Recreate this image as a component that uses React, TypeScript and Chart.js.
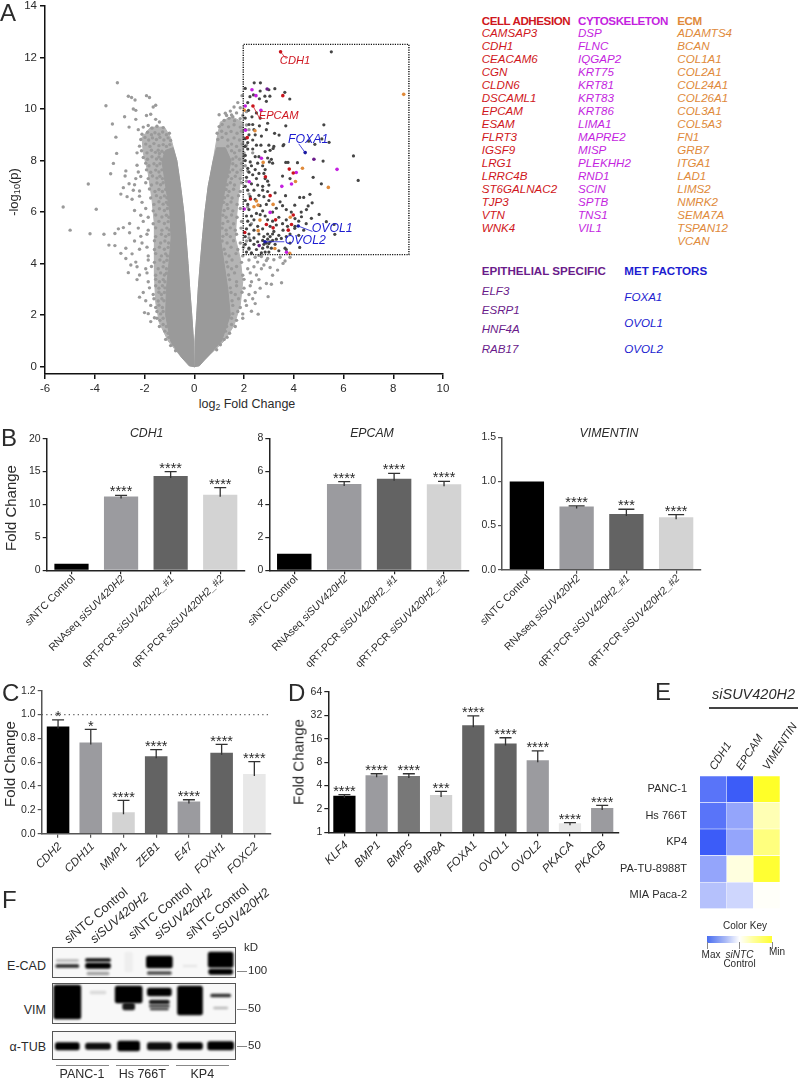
import React, { useEffect, useRef } from "react";
import { Chart, registerables } from "chart.js";
Chart.register(...registerables);

const FONT = "'Liberation Sans', Arial, sans-serif";
const INK = "#2b2b2b";

// ---------- Panel A data ----------
const volcanoXTicks = [-6, -4, -2, 0, 2, 4, 6, 8, 10];
const volcanoYTicks = [0, 2, 4, 6, 8, 10, 12, 14];
const denseLeftArm = [[0, 0], [-0.03, 1], [-0.1, 2], [-0.18, 3], [-0.25, 4], [-0.33, 5], [-0.42, 6], [-0.55, 7], [-0.7, 8], [-0.85, 8.5], [-1.15, 8.4], [-1.3, 8], [-1.15, 7], [-0.98, 6], [-0.93, 5], [-1.02, 4], [-1.12, 3], [-1.15, 2], [-0.95, 1], [-0.5, 0.35], [-0.2, 0.03], [0, 0]];
const denseRightArm = [[0, 0], [0.03, 1], [0.1, 2], [0.16, 3], [0.24, 4], [0.33, 5], [0.43, 6], [0.56, 7], [0.76, 8], [0.9, 8.5], [1.25, 8.5], [1.48, 8], [1.25, 7], [1.08, 6], [1.05, 5], [1.2, 4], [1.35, 3], [1.45, 2], [1.1, 1], [0.5, 0.35], [0.2, 0.03], [0, 0]];
const midLeftArm = [[0, 0], [-0.03, 1], [-0.1, 2], [-0.18, 3], [-0.25, 4], [-0.33, 5], [-0.42, 6], [-0.55, 7], [-0.7, 8], [-0.95, 8.9], [-1.2, 9.3], [-1.75, 9.3], [-2.1, 8.9], [-2.05, 8.3], [-1.85, 7.5], [-1.7, 6.5], [-1.6, 5.5], [-1.6, 4.5], [-1.6, 3.5], [-1.55, 2.5], [-1.4, 1.7], [-1.05, 1], [-0.5, 0.35], [0, 0]];
const midRightArm = [[0, 0], [0.03, 1], [0.1, 2], [0.16, 3], [0.24, 4], [0.33, 5], [0.43, 6], [0.56, 7], [0.76, 8], [0.92, 8.9], [1.05, 9.5], [1.5, 9.7], [1.95, 9.5], [2.0, 8.6], [1.95, 7.8], [1.8, 6.8], [1.7, 5.8], [1.65, 5], [1.85, 4.2], [1.95, 3.3], [1.85, 2.4], [1.6, 1.6], [1.2, 1], [0.5, 0.35], [0, 0]];
const grayLeft = [[-3.09, 11.02], [-3.55, 10.13], [-3.29, 9.42], [-3.15, 8.91], [-3.12, 8.28], [-3.25, 7.89], [-3.36, 7.49], [-4.26, 7.09], [-5.27, 6.2], [-3.94, 6.11], [-4.99, 5.3], [-4.19, 5.16], [-3.63, 5.14], [-3.19, 5.17], [-3.43, 4.72], [-3.19, 4.7],
[-2.65, 10.5], [-2.52, 10.45], [-2.38, 10.35], [-2.45, 10.0], [-2.35, 9.95], [-2.8, 9.7], [-2.35, 9.6], [-2.62, 9.3], [-2.25, 9.2], [-1.92, 10.52], [-1.8, 10.45], [-1.55, 10.15], [-1.65, 10.08], [-1.75, 9.8], [-1.92, 9.75], [-1.55, 9.6], [-1.4, 9.5],
[-2.3, 8.3], [-2.75, 7.6], [-2.78, 7.4], [-2.62, 7.1], [-2.35, 7.3], [-2.85, 6.95], [-2.95, 6.7], [-2.7, 6.6], [-2.5, 6.5], [-2.45, 6.85], [-2.85, 5.4], [-3.05, 5.35], [-2.6, 5.2], [-2.75, 4.6], [-2.95, 4.4], [-2.75, 4.2], [-2.55, 3.95], [-2.65, 3.65], [-2.2, 2.7], [-1.6, 1.9], [-2.0, 2.1], [-1.75, 1.75]];
const grayLeftRim = [[-2.05, 9.3], [-1.85, 9.36], [-1.7, 9.26], [-1.5, 9.33], [-1.25, 9.28], [-2.1, 9.02], [-1.88, 9.1], [-1.72, 9.0], [-1.58, 9.08], [-1.42, 9.02], [-1.27, 9.11], [-1.12, 9.0], [-1.0, 9.06], [-2.15, 8.82], [-1.98, 8.9], [-1.83, 8.8], [-1.68, 8.88], [-1.52, 8.82], [-1.38, 8.9], [-1.22, 8.8], [-1.05, 8.88], [-0.95, 8.78], [-2.2, 8.56], [-1.95, 8.64], [-1.78, 8.55], [-1.62, 8.66], [-1.42, 8.58], [-1.25, 8.62], [-1.12, 8.55], [-0.98, 8.62], [-2.12, 8.38], [-1.9, 8.3], [-1.72, 8.4], [-1.56, 8.32], [-1.45, 8.4], [-1.4, 8.28], [-1.3, 8.36], [-1.2, 8.3], [-2.05, 8.12], [-1.88, 8.05], [-1.7, 8.15], [-1.52, 8.06], [-1.42, 8.14], [-1.33, 8.05], [-2.3, 7.82], [-1.95, 7.9], [-1.82, 7.8], [-1.62, 7.88], [-1.5, 7.8], [-1.38, 7.88], [-2.25, 7.56], [-1.92, 7.64], [-1.75, 7.55], [-1.55, 7.63], [-1.42, 7.56], [-1.3, 7.64], [-2.15, 7.38], [-1.85, 7.3], [-1.68, 7.4], [-1.5, 7.32], [-1.38, 7.39], [-1.28, 7.3], [-2.4, 7.06], [-1.95, 7.14], [-1.72, 7.05], [-1.5, 7.13], [-1.35, 7.06], [-1.25, 7.14], [-2.2, 6.82], [-1.8, 6.9], [-1.58, 6.8], [-1.42, 6.88], [-1.28, 6.8], [-1.15, 6.88], [-2.2, 6.62], [-1.75, 6.55], [-1.52, 6.64], [-1.35, 6.56], [-1.2, 6.63], [-1.1, 6.56], [-2.1, 6.38], [-1.62, 6.3], [-1.42, 6.4], [-1.25, 6.31], [-1.12, 6.38], [-1.05, 6.3], [-2.4, 6.06], [-1.95, 6.14], [-1.65, 6.05], [-1.4, 6.13], [-1.2, 6.06], [-1.08, 6.14], [-2.15, 5.88], [-1.85, 5.8], [-1.55, 5.89], [-1.3, 5.81], [-1.12, 5.88], [-1.02, 5.8], [-2.6, 5.56], [-2.05, 5.64], [-1.65, 5.55], [-1.42, 5.64], [-1.2, 5.56], [-1.05, 5.63], [-2.25, 5.38], [-1.85, 5.3], [-1.55, 5.39], [-1.3, 5.3], [-1.1, 5.38], [-1.0, 5.31], [-2.15, 5.06], [-1.9, 5.14], [-1.55, 5.05], [-1.32, 5.14], [-1.15, 5.06], [-1.02, 5.13], [-2.4, 4.88], [-2.1, 4.8], [-1.6, 4.89], [-1.35, 4.8], [-1.18, 4.88], [-1.03, 4.8], [-2.2, 4.56], [-1.9, 4.64], [-1.6, 4.55], [-1.4, 4.64], [-1.2, 4.56], [-1.05, 4.63], [-2.5, 4.38], [-1.85, 4.3], [-1.55, 4.39], [-1.32, 4.3], [-1.15, 4.38], [-1.08, 4.3], [-2.35, 4.06], [-1.85, 4.14], [-1.6, 4.05], [-1.38, 4.14], [-1.22, 4.06], [-1.1, 4.13], [-2.3, 3.88], [-1.95, 3.8], [-1.72, 3.89], [-1.45, 3.8], [-1.25, 3.88], [-1.12, 3.8], [-2.2, 3.56], [-1.9, 3.64], [-1.55, 3.55], [-1.35, 3.64], [-1.2, 3.56], [-1.12, 3.63], [-2.3, 3.38], [-1.85, 3.3], [-1.55, 3.39], [-1.4, 3.3], [-1.25, 3.38], [-1.18, 3.3], [-1.8, 3.06], [-1.55, 3.14], [-1.42, 3.05], [-1.28, 3.14], [-1.18, 3.06], [-2.05, 2.88], [-1.65, 2.8], [-1.42, 2.89], [-1.32, 2.8], [-1.2, 2.88], [-1.95, 2.56], [-1.62, 2.64], [-1.45, 2.55], [-1.3, 2.64], [-1.22, 2.56], [-1.75, 2.38], [-1.55, 2.3], [-1.42, 2.39], [-1.28, 2.3], [-1.85, 2.06], [-1.5, 2.14], [-1.35, 2.05], [-1.25, 2.14], [-1.5, 1.88], [-1.38, 1.8], [-1.25, 1.88], [-1.4, 1.56], [-1.25, 1.64], [-1.12, 1.56], [-1.18, 1.38], [-1.05, 1.3], [-1.15, 1.06], [-1.02, 1.14], [-0.95, 0.82], [-0.85, 0.88], [-0.75, 0.62]];
const grayRight = [[1.92, 10.52], [1.75, 10.25], [1.6, 10.08], [1.85, 10.05], [1.45, 9.92], [1.3, 9.75], [1.7, 9.85], [1.95, 9.75], [1.55, 9.7], [2.1, 9.9], [3.57, 4.01], [3.35, 3.75], [3.15, 3.55], [3.51, 3.26], [2.9, 3.23], [3.1, 3.2], [2.97, 2.72], [2.57, 2.04], [2.65, 3.05], [2.45, 2.45], [3.65, 4.1], [3.85, 4.25], [3.45, 4.25], [3.2, 4.15], [2.95, 4.2], [2.7, 4.28], [2.45, 4.25], [3.05, 3.85], [2.8, 3.95], [2.2, 9.2], [2.15, 7.6], [2.1, 7.2], [2.2, 6.7], [2.15, 6.2], [2.3, 5.55], [2.2, 5.0], [2.35, 8.3], [2.1, 8.6]];
const grayRightRim = [[1.0, 9.78], [1.25, 9.84], [1.5, 9.77], [1.2, 9.56], [1.4, 9.64], [1.62, 9.55], [1.85, 9.63], [1.0, 9.32], [1.12, 9.4], [1.38, 9.31], [1.6, 9.39], [1.85, 9.3], [2.1, 9.38], [0.92, 9.06], [1.1, 9.14], [1.28, 9.05], [1.48, 9.13], [1.72, 9.06], [1.9, 9.14], [0.95, 8.82], [1.12, 8.9], [1.35, 8.8], [1.6, 8.88], [1.82, 8.8], [2.0, 8.88], [1.35, 8.56], [1.5, 8.64], [1.7, 8.55], [1.92, 8.64], [2.05, 8.56], [1.5, 8.38], [1.62, 8.3], [1.82, 8.39], [2.0, 8.3], [1.55, 8.06], [1.68, 8.14], [1.82, 8.05], [1.98, 8.14], [1.55, 7.88], [1.68, 7.8], [1.9, 7.89], [2.05, 7.8], [1.42, 7.56], [1.55, 7.64], [1.72, 7.55], [1.88, 7.64], [1.35, 7.38], [1.5, 7.3], [1.65, 7.39], [1.85, 7.3], [1.32, 7.06], [1.45, 7.14], [1.62, 7.05], [1.9, 7.14], [1.28, 6.88], [1.4, 6.8], [1.58, 6.89], [1.85, 6.8], [1.22, 6.56], [1.35, 6.64], [1.52, 6.55], [1.78, 6.64], [1.18, 6.38], [1.32, 6.3], [1.48, 6.39], [1.72, 6.3], [1.2, 6.06], [1.35, 6.14], [1.55, 6.05], [1.85, 6.14], [1.15, 5.88], [1.28, 5.8], [1.5, 5.89], [1.72, 5.8], [1.15, 5.56], [1.35, 5.64], [1.58, 5.55], [1.9, 5.64], [1.12, 5.38], [1.28, 5.3], [1.45, 5.39], [1.65, 5.3], [1.88, 5.38], [1.15, 5.06], [1.3, 5.14], [1.45, 5.05], [1.7, 5.14], [1.12, 4.88], [1.32, 4.8], [1.58, 4.89], [1.85, 4.8], [2.1, 4.88], [1.2, 4.56], [1.48, 4.64], [1.75, 4.55], [1.98, 4.64], [2.2, 4.56], [1.25, 4.38], [1.4, 4.3], [1.68, 4.39], [1.95, 4.3], [2.3, 4.4], [2.6, 4.32], [1.3, 4.06], [1.52, 4.14], [1.9, 4.05], [2.2, 4.14], [2.55, 4.06], [2.9, 4.12], [1.35, 3.88], [1.5, 3.8], [1.7, 3.89], [2.15, 3.8], [2.4, 3.88], [2.7, 3.8], [1.38, 3.56], [1.62, 3.64], [1.95, 3.55], [2.25, 3.64], [2.5, 3.56], [1.42, 3.38], [1.7, 3.3], [2.0, 3.39], [2.3, 3.3], [2.6, 3.38], [1.45, 3.06], [1.7, 3.14], [2.0, 3.05], [2.25, 3.14], [1.48, 2.88], [1.65, 2.8], [1.92, 2.89], [2.2, 2.8], [2.45, 2.88], [1.52, 2.56], [1.78, 2.64], [2.05, 2.56], [2.35, 2.64], [1.55, 2.38], [1.85, 2.3], [2.1, 2.38], [1.55, 2.06], [1.75, 2.14], [1.95, 2.05], [2.3, 2.15], [1.5, 1.88], [1.7, 1.8], [1.95, 1.88], [1.3, 1.56], [1.5, 1.64], [1.65, 1.56], [1.25, 1.38], [1.42, 1.3], [1.2, 1.06], [1.32, 1.14], [1.05, 0.85], [0.9, 0.66]];
const darkX = [5.51, 2.41, 2.66, 2.05, 3.24, 3.0, 2.65, 3.64, 2.24, 2.38, 2.62, 2.84, 3.04, 2.9, 3.84, 2.15, 2.18, 2.5, 2.05, 2.32, 2.65, 2.95, 2.2, 2.35, 2.62, 3.68, 2.9, 5.21, 2.05, 2.4, 3.23, 3.41, 2.2, 2.45, 2.7, 2.05, 2.35, 2.15, 2.5, 2.05, 2.68, 3.0, 3.2, 3.57, 3.6, 4.85, 5.42, 5.13, 4.6, 2.15, 2.35, 3.17, 3.05, 2.85, 2.05, 2.45, 2.6, 2.95, 3.1, 2.05, 2.25, 2.55, 2.75, 3.02, 3.15, 3.68, 3.77, 4.15, 5.18, 6.4, 2.3, 2.15, 2.45, 2.85, 2.2, 2.35, 2.6, 2.8, 2.95, 2.1, 2.5, 2.85, 3.55, 3.85, 4.78, 6.59, 2.3, 2.55, 2.75, 3.0, 5.11, 2.05, 2.15, 2.4, 2.75, 2.95, 3.25, 2.25, 2.6, 2.8, 3.67, 4.24, 4.4, 4.65, 2.05, 2.45, 3.0, 3.45, 3.55, 4.74, 4.04, 4.58, 4.51, 2.15, 2.65, 2.9, 3.3, 2.2, 2.75, 3.15, 3.7, 3.9, 2.5, 4.3, 2.1, 2.3, 2.65, 2.85, 3.4, 3.7, 4.05, 4.31, 4.71, 5.02, 2.15, 2.4, 2.95, 3.15, 3.55, 4.2, 4.5, 5.31, 5.62, 2.25, 2.55, 3.05, 3.3, 3.75, 4.05, 2.1, 2.4, 2.75, 3.2, 3.57, 4.04, 4.4, 2.2, 2.6, 2.95, 3.15, 3.4, 3.85, 4.2, 5.65, 2.05, 2.4, 2.8, 3.05, 3.5, 3.7, 2.25, 2.55, 2.75, 2.95, 3.15, 3.3, 2.05, 2.4, 2.8, 3.0, 3.25, 3.85, 2.2, 2.5, 2.75, 2.95, 3.1, 3.65, 4.24, 2.1, 2.3, 2.7, 2.85, 3.0, 3.4, 3.7, 3.05, 2.9];
const darkY = [12.22, 11.02, 11.02, 10.8, 10.79, 10.75, 10.7, 10.65, 10.48, 10.55, 10.4, 10.5, 10.5, 10.3, 10.39, 10.25, 9.95, 9.85, 9.65, 9.7, 9.65, 9.45, 9.4, 9.4, 9.35, 9.35, 9.2, 9.39, 9.2, 9.2, 9.06, 8.99, 9.0, 9.0, 8.95, 8.85, 8.8, 8.7, 8.6, 8.55, 8.6, 8.6, 8.55, 8.58, 8.62, 8.63, 8.71, 8.84, 8.75, 8.45, 8.45, 8.47, 8.4, 8.35, 8.2, 8.15, 8.15, 8.1, 8.05, 8.0, 7.95, 7.9, 7.8, 7.95, 7.9, 7.93, 7.93, 7.92, 7.98, 8.18, 7.8, 7.7, 7.65, 7.65, 7.55, 7.45, 7.5, 7.5, 7.2, 7.35, 7.3, 7.3, 7.4, 7.3, 7.35, 7.23, 7.1, 7.05, 7.0, 7.05, 7.1, 7.0, 6.85, 6.85, 6.85, 6.8, 6.75, 6.6, 6.65, 6.6, 6.64, 6.57, 6.57, 6.69, 6.45, 6.5, 6.45, 6.4, 6.25, 6.36, 6.27, 6.24, 6.1, 6.3, 6.25, 6.3, 6.15, 6.1, 6.05, 6.0, 6.1, 6.0, 5.95, 6.0, 5.85, 5.85, 5.9, 5.85, 5.8, 5.7, 5.75, 5.82, 5.76, 5.91, 5.65, 5.7, 5.7, 5.65, 5.55, 5.65, 5.55, 5.63, 5.52, 5.5, 5.45, 5.45, 5.5, 5.45, 5.45, 5.35, 5.3, 5.35, 5.25, 5.3, 5.37, 5.3, 5.15, 5.15, 5.15, 5.15, 5.1, 5.15, 5.1, 5.14, 5.05, 5.0, 5.05, 5.05, 4.98, 5.05, 4.9, 4.85, 4.9, 4.95, 4.9, 4.95, 4.75, 4.75, 4.75, 4.78, 4.75, 4.8, 4.6, 4.55, 4.6, 4.65, 4.6, 4.6, 4.63, 4.45, 4.42, 4.42, 4.45, 4.45, 4.5, 4.55, 4.85, 4.8];
const redX = [3.47, 3.56, 2.36, 2.13, 3.82, 3.98, 2.86, 3.05, 2.26, 3.27, 2.03, 2.9, 3.17, 3.91, 3.78, 3.98];
const redY = [12.22, 10.52, 10.12, 8.89, 7.67, 7.52, 7.37, 6.64, 6.51, 5.7, 5.21, 5.52, 5.39, 5.52, 5.3, 5.89];
const magentaX = [2.32, 2.48, 2.05, 2.68, 2.06, 2.7, 5.74, 4.1, 3.91, 3.52, 2.21, 2.01, 3.05, 3.71];
const magentaY = [10.75, 10.52, 10.12, 9.95, 9.18, 8.09, 7.66, 7.54, 7.09, 7.0, 7.18, 6.12, 5.99, 4.44];
const orangeX = [8.42, 2.01, 2.77, 4.35, 4.07, 5.39, 2.5, 2.4, 2.57, 3.17, 2.64, 3.86, 2.57, 3.24, 3.84, 2.44];
const orangeY = [10.57, 9.96, 7.93, 7.7, 7.19, 6.96, 6.43, 6.21, 6.27, 6.3, 5.69, 5.8, 5.28, 4.59, 4.4, 9.16];
const purpleX = [2.93, 4.81, 2.61];
const purpleY = [10.78, 8.05, 4.7];
const blueX = [4.46, 4.18, 2.84];
const blueY = [8.31, 5.46, 4.85];
const selectionBox = [[1.97, 4.35], [8.63, 4.35], [8.63, 12.51], [1.97, 12.51], [1.97, 4.35]];
const calloutNames = ["CDH1", "EPCAM", "FOXA1", "OVOL1", "OVOL2"];
const calloutX = [3.44, 2.59, 3.77, 4.72, 3.64];
const calloutY = [11.87, 9.73, 8.8, 5.36, 4.89];
const calloutFromX = [3.47, 2.36, 4.46, 4.18, 2.84];
const calloutFromY = [12.22, 10.12, 8.31, 5.46, 4.85];
const calloutToX = [3.7, 2.65, 4.2, 4.75, 3.62];
const calloutToY = [11.95, 9.6, 8.65, 5.25, 4.85];

const cellAdhesion = ["CAMSAP3", "CDH1", "CEACAM6", "CGN", "CLDN6", "DSCAML1", "EPCAM", "ESAM", "FLRT3", "IGSF9", "LRG1", "LRRC4B", "ST6GALNAC2", "TJP3", "VTN", "WNK4"];
const cytoskeleton = ["DSP", "FLNC", "IQGAP2", "KRT75", "KRT81", "KRT83", "KRT86", "LIMA1", "MAPRE2", "MISP", "PLEKHH2", "RND1", "SCIN", "SPTB", "TNS1", "VIL1"];
const ecm = ["ADAMTS4", "BCAN", "COL1A1", "COL2A1", "COL24A1", "COL26A1", "COL3A1", "COL5A3", "FN1", "GRB7", "ITGA1", "LAD1", "LIMS2", "NMRK2", "SEMA7A", "TSPAN12", "VCAN"];
const epithelial = ["ELF3", "ESRP1", "HNF4A", "RAB17"];
const metFactors = ["FOXA1", "OVOL1", "OVOL2"];

// ---------- Panel B data ----------
const bLabels = ["siNTC Control", "RNAseq siSUV420H2", "qRT-PCR siSUV420H2_#1", "qRT-PCR siSUV420H2_#2"];
const cdh1Values = [1, 11.2, 14.35, 11.5];
const cdh1Upper = [1, 11.4, 15, 12.55];
const epcamValues = [1, 5.23, 5.55, 5.22];
const epcamUpper = [1, 5.37, 5.87, 5.39];
const vimValues = [1, 0.715, 0.63, 0.595];
const vimUpper = [1, 0.722, 0.685, 0.625];
const cdh1Stars = ["", "****", "****", "****"];
const vimStars = ["", "****", "***", "****"];

// ---------- Panel C data ----------
const cLabels = ["CDH2", "CDH11", "MMP1", "ZEB1", "E47", "FOXH1", "FOXC2"];
const cValues = [0.9, 0.765, 0.18, 0.65, 0.27, 0.68, 0.5];
const cUpper = [0.955, 0.875, 0.28, 0.705, 0.285, 0.75, 0.605];
const cStars = ["*", "*", "****", "****", "****", "****", "****"];

// ---------- Panel D data ----------
const dLabels = ["KLF4", "BMP1", "BMP5", "BMP8A", "FOXA1", "OVOL1", "OVOL2", "PKACA", "PKACB"];
const dValues = [2.96, 5.41, 5.3, 3.02, 23.8, 13.9, 8.45, 1.31, 2.05];
const dUpper = [3.05, 5.67, 5.67, 3.37, 31.6, 16.5, 11.2, 1.33, 2.22];
const dStars = ["****", "****", "****", "***", "****", "****", "****", "****", "****"];
const dTicks = [1, 2, 4, 8, 16, 32, 64];

// ---------- Panel E data ----------
const heatRows = ["PANC-1", "Hs 766T", "KP4", "PA-TU-8988T", "MIA Paca-2"];
const heatCols = ["CDH1", "EPCAM", "VIMENTIN"];
const heatCDH1 = [0.85, 0.85, 1.0, 0.55, 0.38];
const heatEPCAM = [1.0, 0.55, 0.55, -0.15, 0.25];
const heatVIM = [-1.0, -0.35, -0.6, -0.95, -0.03];

// ---------- Panel F data ----------
const lanes = ["1", "2", "3", "4", "5", "6"];
const ecadBands = [[0, 12.5, 14.5, 22, 0.28], [0, 17.5, 20.5, 23, 0.85], [1, 11.5, 14.5, 25, 0.95], [1, 16, 21.5, 25, 1], [1, 25, 28, 22, 0.35], [2, 5, 25, 8, 0.04], [3, 9, 21, 26, 1], [3, 24.5, 27.5, 24, 0.7], [4, 18, 20, 14, 0.07], [5, 5, 20.5, 25, 1], [5, 22, 27.5, 24, 1]];
const vimBands = [[0, 2, 36, 27, 1], [1, 8, 11, 16, 0.12], [2, 3, 20, 27, 1], [2, 20, 27, 12, 0.9], [3, 5, 13, 24, 1], [3, 17, 21, 20, 0.9], [3, 22, 24, 20, 0.8], [3, 25, 27, 18, 0.75], [4, 3, 32, 25, 1], [5, 11, 14, 20, 0.8], [5, 24, 26, 14, 0.25]];
const tubBands = [[0, 11.5, 19, 24, 1], [1, 12, 18.5, 25, 0.95], [2, 10, 20, 22, 1], [3, 11.5, 19, 24, 0.95], [4, 11.5, 18.5, 25, 1], [5, 10.5, 19, 26, 1]];

// ---------- Colours ----------
const BLACK = "#000000", MID = "#9b9b9f", DARK = "#636363", LIGHT = "#d3d3d3", PALE = "#e8e8e8", STEEL = "#787878";
const bColors = [BLACK, MID, DARK, LIGHT];
const cColors = [BLACK, MID, LIGHT, DARK, MID, DARK, PALE];
const dColors = [BLACK, MID, STEEL, LIGHT, DARK, DARK, MID, PALE, MID];
const C_RED = "#cf1620", C_MAG = "#c41fe0", C_ORG = "#e08a3a", C_PUR = "#6a1b8a", C_BLU = "#1c1cd0";
const GRAY = "#9a9a9a", GRAY_MID = "#b4b4b4";

const zip = (xs: number[], ys: number[]) => xs.map((x, i) => ({ x, y: ys[i] }));
const pairs = (p: number[][]) => p.map(([x, y]) => ({ x, y }));

function frame(c: any, p: any) {
  return {
    padding: { left: 0, top: p.t - c.y, right: c.x + c.w - p.r, bottom: 0 },
    yw: p.l - c.x,
    xh: c.y + c.h - p.b,
  };
}
function fixX(h: number) {
  return (s: any) => { s.height = h; s.paddingLeft = 0; s.paddingRight = 0; };
}
function fixY(w: number) {
  return (s: any) => { s.width = w; s.paddingTop = 0; s.paddingBottom = 0; };
}
function setTicks(vals: number[]) {
  return (s: any) => { s.ticks = vals.map((value) => ({ value })); };
}

function makeVolcano(el: HTMLCanvasElement, c: any) {
  const p = { l: 45, r: 443, t: 6, b: 374 };
  const f = frame(c, p);
  const dots = (label: string, data: any[], color: string, radius: number) => ({ type: "scatter", label, data, backgroundColor: color, borderWidth: 0, pointRadius: radius, showLine: false });
  const band = (label: string, data: number[][], color: string) => ({ type: "scatter", label, data: pairs(data), showLine: true, fill: "shape", pointRadius: 0, borderWidth: 1, borderColor: color, backgroundColor: color, tension: 0 });
  const leaders = calloutNames.map((n, i) => ({
    type: "scatter", label: "leader " + n,
    data: [{ x: calloutFromX[i], y: calloutFromY[i] }, { x: calloutToX[i], y: calloutToY[i] }],
    showLine: true, pointRadius: 0, borderWidth: 0.8, borderColor: i < 2 ? C_RED : C_BLU,
  }));
  const calloutPlugin = {
    id: "callouts",
    afterDatasetsDraw(chart: any) {
      const { ctx, scales } = chart;
      ctx.save();
      calloutNames.forEach((n, i) => {
        ctx.font = `italic ${i < 2 ? 11.2 : 12.3}px ${FONT}`;
        ctx.fillStyle = i < 2 ? C_RED : C_BLU;
        ctx.textBaseline = "middle";
        ctx.fillText(n, scales.x.getPixelForValue(calloutX[i]), scales.y.getPixelForValue(calloutY[i]));
      });
      ctx.restore();
    },
  };
  return new Chart(el, {
    type: "scatter",
    data: {
      datasets: [
        ...leaders,
        { type: "scatter", label: "Selection", data: pairs(selectionBox), showLine: true, pointRadius: 0, borderColor: "#111", borderWidth: 1.4, borderDash: [1.2, 1.2] },
        dots("MET factors", zip(blueX, blueY), "#1a1a9a", 1.8),
        dots("Epithelial specific", zip(purpleX, purpleY), C_PUR, 1.8),
        dots("Cell adhesion", zip(redX, redY), "#c8141c", 1.8),
        dots("Cytoskeleton", zip(magentaX, magentaY), C_MAG, 1.8),
        dots("ECM", zip(orangeX, orangeY), C_ORG, 1.8),
        dots("Other selected", zip(darkX, darkY), "#454545", 1.6),
        band("Dense left", denseLeftArm, GRAY),
        band("Dense right", denseRightArm, GRAY),
        dots("Genes left", pairs(grayLeft), GRAY, 1.7),
        dots("Genes left rim", pairs(grayLeftRim), GRAY, 1.7),
        dots("Genes right", pairs(grayRight), GRAY, 1.7),
        dots("Genes right rim", pairs(grayRightRim), GRAY, 1.7),
        band("Mid left", midLeftArm, GRAY_MID),
        band("Mid right", midRightArm, GRAY_MID),
      ] as any,
    },
    options: {
      responsive: false, animation: false,
      layout: { padding: f.padding },
      plugins: { legend: { display: false }, tooltip: { enabled: false } },
      scales: {
        x: {
          type: "linear", min: -6, max: 10, afterBuildTicks: setTicks(volcanoXTicks), afterFit: fixX(f.xh),
          border: { color: "#111", width: 1.5 },
          grid: { display: true, drawOnChartArea: false, color: "#111", lineWidth: 1.5, tickLength: 5 },
          ticks: { font: { family: FONT, size: 11.5 }, color: INK, padding: 3, autoSkip: false, maxRotation: 0 },
        },
        y: {
          type: "linear", min: -0.283, max: 14, afterBuildTicks: setTicks(volcanoYTicks), afterFit: fixY(f.yw),
          border: { color: "#111", width: 1.5 },
          grid: { display: true, drawOnChartArea: false, color: "#111", lineWidth: 1.5, tickLength: 5 },
          ticks: { font: { family: FONT, size: 11.5 }, color: INK, padding: 3, autoSkip: false },
        },
      },
    } as any,
    plugins: [calloutPlugin],
  });
}

// Panel B's labels italicise the "si" prefix and the siRNA name; C and D are fully italic.
function labelParts(label: string, mixed: boolean): [string, boolean][] {
  if (!mixed) return [[label, true]];
  if (label.startsWith("siNTC")) return [["si", true], [label.slice(2), false]];
  const k = label.indexOf("si");
  return [[label.slice(0, k), false], [label.slice(k), true]];
}

function makeBars(el: HTMLCanvasElement, c: any, p: any, o: any) {
  const f = frame(c, p);
  const marks = {
    id: "marks",
    afterDatasetsDraw(chart: any) {
      const { ctx, scales, chartArea } = chart;
      ctx.save();
      if (o.refLine !== undefined) {
        const y = scales.y.getPixelForValue(o.refLine);
        ctx.strokeStyle = "#666"; ctx.lineWidth = 1.2; ctx.setLineDash([1.3, 3.2]);
        ctx.beginPath(); ctx.moveTo(chartArea.left, y); ctx.lineTo(chartArea.right, y); ctx.stroke();
        ctx.setLineDash([]);
      }
      o.values.forEach((v: number, i: number) => {
        const x = scales.x.getPixelForTick(i);
        const y0 = scales.y.getPixelForValue(v);
        const y1 = scales.y.getPixelForValue(o.upper[i]);
        if (o.upper[i] > v) {
          ctx.strokeStyle = "#333"; ctx.lineWidth = 1.3;
          ctx.beginPath(); ctx.moveTo(x, y0 + 2); ctx.lineTo(x, y1);
          ctx.moveTo(x - o.cap, y1); ctx.lineTo(x + o.cap, y1); ctx.stroke();
        }
        if (o.stars[i]) {
          ctx.fillStyle = "#2a2a2a"; ctx.font = `14.5px ${FONT}`;
          ctx.textAlign = "center"; ctx.textBaseline = "alphabetic";
          ctx.fillText(o.stars[i], x, y1 + o.starDrop);
        }
      });
      o.labels.forEach((label: string, i: number) => {
        const parts = labelParts(label, !!o.mixedLabels);
        const fontOf = (it: boolean) => `${it ? "italic " : ""}${o.labelSize}px ${FONT}`;
        let total = 0;
        parts.forEach(([s, it]) => { ctx.font = fontOf(it); total += ctx.measureText(s).width; });
        ctx.save();
        ctx.translate(scales.x.getPixelForTick(i) + 2, chartArea.bottom + o.labelDrop);
        ctx.rotate(-Math.PI / 4);
        ctx.fillStyle = INK; ctx.textBaseline = "middle"; ctx.textAlign = "left";
        let cur = -total;
        parts.forEach(([s, it]) => { ctx.font = fontOf(it); ctx.fillText(s, cur, 0); cur += ctx.measureText(s).width; });
        ctx.restore();
      });
      ctx.restore();
    },
  };
  return new Chart(el, {
    type: "bar",
    data: {
      labels: o.labels,
      datasets: [{ label: o.name, data: o.values, backgroundColor: o.colors, barPercentage: 0.69, categoryPercentage: 1 }],
    },
    options: {
      responsive: false, animation: false,
      layout: { padding: f.padding },
      plugins: { legend: { display: false }, tooltip: { enabled: false } },
      scales: {
        x: {
          type: "category", afterFit: fixX(f.xh),
          border: { color: o.axis, width: 1.5 },
          grid: { display: true, drawOnChartArea: false, color: o.axis, lineWidth: 1.2, tickLength: 4, offset: false },
          ticks: { display: false },
        },
        y: {
          type: o.log ? "logarithmic" : "linear", min: o.min, max: o.max, afterBuildTicks: setTicks(o.ticks), afterFit: fixY(f.yw),
          border: { color: o.axis, width: 1.5 },
          grid: { display: true, drawOnChartArea: false, color: o.axis, lineWidth: 1.2, tickLength: 4 },
          ticks: { font: { family: FONT, size: 10.5 }, color: INK, padding: 2, autoSkip: false, callback: (v: number) => (o.decimals ? Number(v).toFixed(o.decimals) : String(v)) },
        },
      },
    } as any,
    plugins: [marks],
  });
}

function heatColor(v: number) {
  const mix = (a: number[], t: number) => a.map((k) => Math.round(255 + (k - 255) * t));
  const rgb = v >= 0 ? mix([60, 92, 248], v) : mix([255, 255, 40], -v);
  return `rgb(${rgb.join(",")})`;
}

function makeHeat(el: HTMLCanvasElement, c: any) {
  const p = { l: 700, r: 780, t: 776, b: 908.7 };
  const f = frame(c, p);
  const series = [heatCDH1, heatEPCAM, heatVIM];
  const colLabels = {
    id: "colLabels",
    afterDatasetsDraw(chart: any) {
      const { ctx, scales, chartArea } = chart;
      heatCols.forEach((n, i) => {
        ctx.save();
        ctx.translate(scales.x.getPixelForValue(i + 0.5) - 1, chartArea.top - 7);
        ctx.rotate((-57 * Math.PI) / 180);
        ctx.font = `italic 11.2px ${FONT}`; ctx.fillStyle = INK; ctx.textAlign = "left"; ctx.textBaseline = "middle";
        ctx.fillText(n, 0, 0);
        ctx.restore();
      });
    },
  };
  return new Chart(el, {
    type: "bar",
    data: {
      labels: heatRows,
      datasets: heatCols.map((n, i) => ({
        label: n, data: heatRows.map(() => 1), backgroundColor: series[i].map(heatColor),
        borderColor: "rgba(255,255,255,0.45)", borderWidth: 0.6, barPercentage: 1, categoryPercentage: 1,
      })),
    },
    options: {
      responsive: false, animation: false, indexAxis: "y",
      layout: { padding: { left: 0, top: 0, right: f.padding.right, bottom: c.y + c.h - p.b } },
      plugins: { legend: { display: false }, tooltip: { enabled: false } },
      scales: {
        x: {
          type: "linear", position: "top", stacked: true, min: 0, max: 3,
          afterBuildTicks: setTicks([0.5, 1.5, 2.5]),
          afterFit: (s: any) => { s.height = p.t - c.y; s.paddingLeft = 0; s.paddingRight = 0; },
          border: { display: false }, grid: { display: false },
          ticks: { display: false },
        },
        y: {
          type: "category", stacked: true, afterFit: fixY(f.yw),
          border: { display: false }, grid: { display: false },
          ticks: { font: { family: FONT, size: 11 }, color: INK, padding: 5, autoSkip: false },
        },
      },
    } as any,
    plugins: [colLabels],
  });
}

function makeBlot(el: HTMLCanvasElement, bands: number[][], h: number) {
  const soften = {
    id: "soften",
    beforeDraw(chart: any) {
      const { ctx, width, height } = chart;
      ctx.save(); ctx.fillStyle = "#f8f8f8"; ctx.fillRect(0, 0, width, height); ctx.restore();
    },
    beforeDatasetsDraw(chart: any) { chart.ctx.save(); chart.ctx.filter = "blur(1.1px)"; },
    afterDatasetsDraw(chart: any) {
      const { ctx, width, height } = chart;
      ctx.restore();
      ctx.save(); ctx.strokeStyle = "#555"; ctx.lineWidth = 1; ctx.strokeRect(0.5, 0.5, width - 1, height - 1); ctx.restore();
    },
  };
  return new Chart(el, {
    type: "bar",
    data: {
      labels: lanes,
      datasets: bands.map(([lane, from, to, thick, shade], i) => ({
        label: "band " + i,
        data: lanes.map((_, k) => (k === lane ? [from, to] : null)),
        backgroundColor: `rgba(0,0,0,${shade})`, barThickness: thick, grouped: false, borderRadius: 2.5, borderSkipped: false,
      })),
    },
    options: {
      responsive: false, animation: false,
      layout: { padding: 0 },
      plugins: { legend: { display: false }, tooltip: { enabled: false } },
      scales: {
        x: { type: "category", display: false },
        y: { type: "linear", display: false, reverse: true, min: 0, max: h },
      },
    } as any,
    plugins: [soften],
  });
}

const T = ({ x, y, a = "l", rot = 0, size = 12, color = INK, italic = false, bold = false, spacing = 0, children }: any) => (
  <div
    style={{
      position: "absolute", left: x, top: y, whiteSpace: "nowrap", lineHeight: 1, fontFamily: FONT, fontSize: size, color,
      fontStyle: italic ? "italic" : "normal", fontWeight: bold ? 700 : 400, letterSpacing: spacing,
      transformOrigin: a === "l" ? "0 50%" : a === "c" ? "50% 50%" : "100% 50%",
      transform: `translate(${a === "l" ? 0 : a === "c" ? -50 : -100}%,-50%) rotate(${rot}deg)`,
    }}
  >
    {children}
  </div>
);
const Sub = ({ children }: any) => <span style={{ fontSize: "70%", verticalAlign: "-0.3em", lineHeight: 0 }}>{children}</span>;
const Rule = ({ x, y, w, h = 1, color = "#888" }: any) => <div style={{ position: "absolute", left: x, top: y, width: w, height: h, background: color }} />;

const R = {
  volcano: { x: 10, y: 0, w: 445, h: 395 },
  b1: { x: 14, y: 425, w: 236, h: 247 },
  b2: { x: 240, y: 425, w: 234, h: 247 },
  b3: { x: 472, y: 425, w: 234, h: 247 },
  c: { x: 14, y: 680, w: 262, h: 205 },
  d: { x: 300, y: 680, w: 324, h: 205 },
  heat: { x: 610, y: 715, w: 188, h: 198 },
  ecad: { x: 51.7, y: 946.7, w: 184, h: 31 },
  vim: { x: 51.7, y: 983.3, w: 184, h: 41 },
  tub: { x: 51.7, y: 1030.7, w: 184, h: 29 },
};
const cv = (r: any) => ({ position: "absolute" as const, left: r.x, top: r.y, width: r.w, height: r.h });

export default function App() {
  const refs = useRef<Record<string, HTMLCanvasElement | null>>({});
  useEffect(() => {
    const e = refs.current as any;
    const charts = [
      makeVolcano(e.volcano, R.volcano),
      makeBars(e.b1, R.b1, { l: 46.7, r: 245, t: 438.7, b: 570.3 }, { name: "CDH1", labels: bLabels, values: cdh1Values, upper: cdh1Upper, stars: cdh1Stars, colors: bColors, min: 0, max: 20, ticks: [0, 5, 10, 15, 20], axis: "#222", labelSize: 10.5, cap: 6, starDrop: 1, mixedLabels: true, labelDrop: 7 }),
      makeBars(e.b2, R.b2, { l: 269.3, r: 469, t: 438.3, b: 570.3 }, { name: "EPCAM", labels: bLabels, values: epcamValues, upper: epcamUpper, stars: cdh1Stars, colors: bColors, min: 0, max: 8, ticks: [0, 2, 4, 6, 8], axis: "#222", labelSize: 10.5, cap: 6, starDrop: 1, mixedLabels: true, labelDrop: 7 }),
      makeBars(e.b3, R.b3, { l: 502, r: 701, t: 437.3, b: 569.7 }, { name: "VIMENTIN", labels: bLabels, values: vimValues, upper: vimUpper, stars: vimStars, colors: bColors, min: 0, max: 1.5, ticks: [0, 0.5, 1, 1.5], decimals: 1, axis: "#555", labelSize: 10.5, cap: 8, starDrop: 1, mixedLabels: true, labelDrop: 7 }),
      makeBars(e.c, R.c, { l: 41.7, r: 270.7, t: 690.7, b: 833.7 }, { name: "EMT", labels: cLabels, values: cValues, upper: cUpper, stars: cStars, colors: cColors, min: 0, max: 1.2, ticks: [0, 0.2, 0.4, 0.6, 0.8, 1, 1.2], decimals: 1, axis: "#555", labelSize: 11.5, cap: 6, starDrop: 1.5, refLine: 1, labelDrop: 11 }),
      makeBars(e.d, R.d, { l: 328.3, r: 618.3, t: 692, b: 832.3 }, { name: "MET", labels: dLabels, values: dValues, upper: dUpper, stars: dStars, colors: dColors, min: 1, max: 64, ticks: dTicks, log: true, axis: "#222", labelSize: 11.5, cap: 6, starDrop: 1.5, labelDrop: 11 }),
      makeHeat(e.heat, R.heat),
      makeBlot(e.ecad, ecadBands, 31),
      makeBlot(e.vim, vimBands, 41),
      makeBlot(e.tub, tubBands, 29),
    ];
    return () => charts.forEach((c) => c.destroy());
  }, []);

  const canvas = (k: keyof typeof R) => (
    <canvas key={k} ref={(n) => { refs.current[k] = n; }} width={R[k].w} height={R[k].h} style={cv(R[k])} />
  );
  const list = (names: string[], x: number, y0: number, step: number, color: string) =>
    names.map((n, i) => <T key={n + x} x={x} y={y0 + i * step} size={11.6} italic color={color}>{n}</T>);
  const listAt = (names: string[], x: number, ys: number[], color: string) =>
    names.map((n, i) => <T key={n + x} x={x} y={ys[i]} size={11.6} italic color={color}>{n}</T>);

  return (
    <div style={{ position: "absolute", left: 0, top: 0, width: 798, height: 1079, background: "#fff", overflow: "hidden" }}>
      {(Object.keys(R) as (keyof typeof R)[]).map(canvas)}

      <T x={0} y={13} size={24}>A</T>
      <T x={1} y={438} size={24}>B</T>
      <T x={2} y={693} size={24}>C</T>
      <T x={288} y={693} size={24}>D</T>
      <T x={655} y={692} size={24}>E</T>
      <T x={2} y={900} size={24}>F</T>

      <T x={247} y={404} a="c" size={12.5}>log<Sub>2</Sub> Fold Change</T>
      <T x={13} y={192} a="c" rot={-90} size={13}>-log<Sub>10</Sub>(p)</T>

      <T x={481.7} y={20.7} size={11.6} bold color={C_RED} spacing={-0.42}>CELL ADHESION</T>
      <T x={578} y={20.7} size={11.6} bold color={C_MAG} spacing={-0.42}>CYTOSKELETON</T>
      <T x={677.3} y={20.7} size={11.6} bold color={C_ORG} spacing={-0.42}>ECM</T>
      {list(cellAdhesion, 481.7, 32.7, 13.03, C_RED)}
      {list(cytoskeleton, 578, 32.7, 13.03, C_MAG)}
      {list(ecm, 677.3, 32.7, 13.03, C_ORG)}
      <T x={481.7} y={271} size={11.6} bold color={C_PUR}>EPITHELIAL SPECIFIC</T>
      <T x={624.3} y={271} size={11.6} bold color={C_BLU}>MET FACTORS</T>
      {listAt(epithelial, 481.7, [291, 310, 329.3, 348.7], C_PUR)}
      {listAt(metFactors, 624.3, [297, 322.7, 348.7], C_BLU)}

      <T x={10} y={508} a="c" rot={-90} size={15}>Fold Change</T>
      <T x={146.7} y={433} a="c" size={12.3} italic>CDH1</T>
      <T x={372} y={433} a="c" size={12.3} italic>EPCAM</T>
      <T x={609} y={433} a="c" size={12.3} italic>VIMENTIN</T>

      <T x={9} y={763.7} a="c" rot={-90} size={15}>Fold Change</T>
      <T x={298} y={762} a="c" rot={-90} size={15}>Fold Change</T>

      <T x={753.5} y={694} a="c" size={14.5} italic>siSUV420H2</T>
      <Rule x={709} y={707} w={89} h={1.5} color="#444" />

      <T x={745} y={926} a="c" size={10}>Color Key</T>
      <div style={{ position: "absolute", left: 707.3, top: 935.7, width: 64.7, height: 7, background: "linear-gradient(90deg,#4a6ef0 0%,#a8b8f6 28%,#ffffff 50%,#ffff9a 72%,#ffff30 100%)" }} />
      <Rule x={707} y={942} w={1} h={7} />
      <Rule x={739} y={942} w={1} h={7} />
      <Rule x={771.5} y={942} w={1} h={7} />
      <T x={711} y={955} a="c" size={10}>Max</T>
      <T x={739.5} y={955} a="c" size={10}><i>siNTC</i></T>
      <T x={739.5} y={964} a="c" size={10}>Control</T>
      <T x={777} y={952} a="c" size={10}>Min</T>

      <T x={65.7} y={941} rot={-40} size={12.5}><i>si</i>NTC Control</T>
      <T x={91.7} y={941} rot={-40} size={12.5}><i>siSUV420H2</i></T>
      <T x={130} y={937} rot={-40} size={12.5}><i>si</i>NTC Control</T>
      <T x={156} y={937} rot={-40} size={12.5}><i>siSUV420H2</i></T>
      <T x={187} y={937} rot={-40} size={12.5}><i>si</i>NTC Control</T>
      <T x={213} y={937} rot={-40} size={12.5}><i>siSUV420H2</i></T>
      <T x={46} y={965.7} a="r" size={12.5}>E-CAD</T>
      <T x={46} y={1010} a="r" size={12.5}>VIM</T>
      <T x={46} y={1046.7} a="r" size={12.5}>α-TUB</T>
      <T x={244} y={948} size={11.5}>kD</T>
      <Rule x={237} y={971} w={10} /><T x={248} y={971} size={11.5}>100</T>
      <Rule x={237} y={1009} w={10} /><T x={248} y={1009} size={11.5}>50</T>
      <Rule x={237} y={1045.5} w={10} /><T x={248} y={1045.5} size={11.5}>50</T>
      <Rule x={55.7} y={1064.5} w={53.3} />
      <Rule x={116} y={1064.5} w={53} />
      <Rule x={176} y={1064.5} w={53.3} />
      <T x={82} y={1074} a="c" size={12.5}>PANC-1</T>
      <T x={142.3} y={1074} a="c" size={12.5}>Hs 766T</T>
      <T x={202.3} y={1074} a="c" size={12.5}>KP4</T>
    </div>
  );
}
